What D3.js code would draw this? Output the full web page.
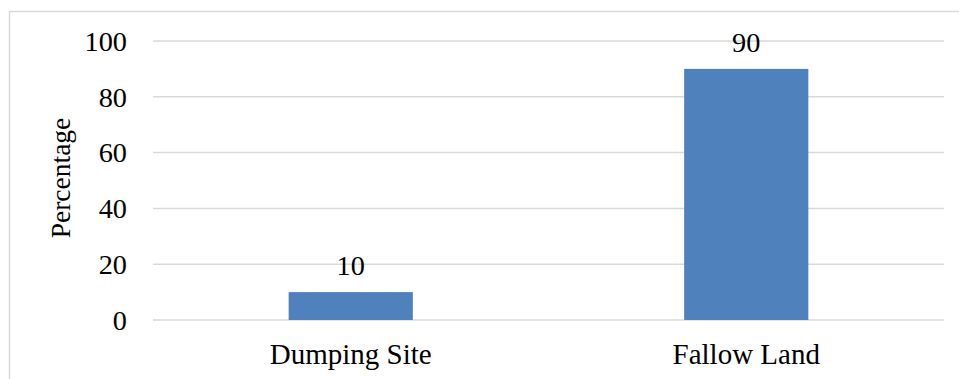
<!DOCTYPE html>
<html>
<head>
<meta charset="utf-8">
<script src="https://cdn.jsdelivr.net/npm/d3@7"></script>
<style>
  body { margin: 0; background: #fff; }
  svg text { font-family: "Liberation Serif", "Times New Roman", "DejaVu Serif", serif !important; fill: #000; }
</style>
</head>
<body>
<div id="chart"></div>
<script>
// data
var categories = ["Dumping Site", "Fallow Land"];
var percentages = [10, 90];
var yTicks = [0, 20, 40, 60, 80, 100];

var W = 959, H = 379;
var margin = { top: 41, right: 15, bottom: 59, left: 153 },
    width = 944 - margin.left,
    height = 320 - margin.top;

var svg = d3.select("#chart")
    .append("svg")
    .attr("width", W)
    .attr("height", H);

// outer chart border
svg.append("rect")
    .attr("x", 9.5).attr("y", 11.5)
    .attr("width", W).attr("height", H)
    .attr("fill", "none")
    .attr("stroke", "#d9d9d9")
    .attr("stroke-width", 1.5);

var g = svg.append("g")
    .attr("transform", "translate(" + margin.left + "," + margin.top + ")");

var x = d3.scaleBand()
    .domain(categories)
    .range([0, width])
    .paddingInner(0.686)
    .paddingOuter(0.343);

var y = d3.scaleLinear()
    .domain([0, 100])
    .range([height, 0]);

// gridlines
g.selectAll(".grid")
    .data(yTicks)
    .enter()
    .append("line")
    .attr("x1", 0).attr("x2", width)
    .attr("y1", function (d) { return y(d) })
    .attr("y2", function (d) { return y(d) })
    .attr("stroke", "#d9d9d9")
    .attr("stroke-width", 1.5);

// y axis labels
var yAxis = g.append("g")
    .call(d3.axisLeft(y).tickValues(yTicks).tickSize(0).tickPadding(26))
    .attr("font-family", null);
yAxis.select(".domain").remove();
yAxis.selectAll("text")
    .style("font-size", "28.3px")
    .attr("dy", "0.33em")
    .attr("fill", "#000");

// x axis labels
var xAxis = g.append("g")
    .attr("transform", "translate(0," + height + ")")
    .call(d3.axisBottom(x).tickSize(0).tickPadding(23))
    .attr("font-family", null);
xAxis.select(".domain").remove();
xAxis.selectAll("text")
    .style("font-size", "29px")
    .attr("fill", "#000");

// bars
g.selectAll(".bar")
    .data(percentages)
    .enter()
    .append("rect")
    .attr("x", function (d, i) { return x(categories[i]) })
    .attr("y", function (d) { return y(d) })
    .attr("width", x.bandwidth())
    .attr("height", function (d) { return height - y(d) })
    .attr("fill", "#4f81bd");

// value labels
g.selectAll(".lbl")
    .data(percentages)
    .enter()
    .append("text")
    .attr("x", function (d, i) { return x(categories[i]) + x.bandwidth() / 2 })
    .attr("y", function (d) { return y(d) - 17 })
    .attr("text-anchor", "middle")
    .style("font-size", "28.3px")
    .text(function (d) { return d });

// y title
svg.append("text")
    .attr("transform", "translate(70,178) rotate(-90)")
    .attr("text-anchor", "middle")
    .style("font-size", "27.5px")
    .text("Percentage");
</script>
</body>
</html>
